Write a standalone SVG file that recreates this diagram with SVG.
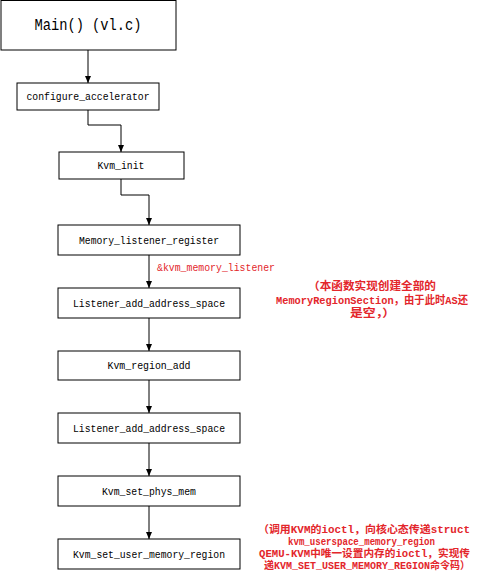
<svg xmlns="http://www.w3.org/2000/svg" width="480" height="579" viewBox="0 0 480 579">
<style>
.box rect{fill:#fff;stroke:#000;stroke-width:1}
.box text{font-family:"Liberation Mono","Noto Sans CJK SC",monospace;font-size:11px;fill:#000;text-anchor:middle}
.conn path{fill:none;stroke:#000;stroke-width:1}
.note{font-family:"Liberation Mono","Noto Sans CJK SC",monospace;font-size:11px;fill:#e3262b;font-weight:bold}
.note2{font-size:10.5px}
.lbl{font-family:"Liberation Mono","Noto Sans CJK SC",monospace;font-size:11px;fill:#e3262b}
</style>
<defs>
<marker id="arr" markerUnits="userSpaceOnUse" markerWidth="8" markerHeight="8" refX="7" refY="4" orient="auto">
<path d="M0,1 L7,4 L0,7 Z" fill="#000"/>
</marker>
</defs>
<rect width="480" height="579" fill="#fff"/>
<g class="conn">
<path d="M88,50 V83" marker-end="url(#arr)"/>
<path d="M88,110 V125 H121 V152" marker-end="url(#arr)"/>
<path d="M121,179 V195 H149 V225" marker-end="url(#arr)"/>
<path d="M149,255 V288" marker-end="url(#arr)"/>
<path d="M149,318 V351" marker-end="url(#arr)"/>
<path d="M149,380 V413" marker-end="url(#arr)"/>
<path d="M149,443 V476" marker-end="url(#arr)"/>
<path d="M149,506 V539" marker-end="url(#arr)"/>
</g>
<g id="n-main" class="box"><rect x="1" y="0.5" width="175" height="49.5"/><text x="88" y="30" style="font-size:16px" textLength="107" lengthAdjust="spacingAndGlyphs">Main() (vl.c)</text></g>
<g id="n-config" class="box"><rect x="17" y="83" width="142" height="27"/><text x="88" y="100" textLength="123" lengthAdjust="spacingAndGlyphs">configure_accelerator</text></g>
<g id="n-kvminit" class="box"><rect x="59" y="152" width="125" height="27"/><text x="121" y="169" textLength="47" lengthAdjust="spacingAndGlyphs">Kvm_init</text></g>
<g id="n-mlr" class="box"><rect x="58" y="225" width="182" height="30"/><text x="149" y="244" textLength="140" lengthAdjust="spacingAndGlyphs">Memory_listener_register</text></g>
<g id="n-laas1" class="box"><rect x="58" y="288" width="182" height="30"/><text x="149" y="307" textLength="152" lengthAdjust="spacingAndGlyphs">Listener_add_address_space</text></g>
<g id="n-kra" class="box"><rect x="58" y="351" width="182" height="29"/><text x="149" y="369" textLength="83" lengthAdjust="spacingAndGlyphs">Kvm_region_add</text></g>
<g id="n-laas2" class="box"><rect x="58" y="413" width="182" height="30"/><text x="149" y="432" textLength="152" lengthAdjust="spacingAndGlyphs">Listener_add_address_space</text></g>
<g id="n-kspm" class="box"><rect x="58" y="476" width="182" height="30"/><text x="149" y="495" textLength="94" lengthAdjust="spacingAndGlyphs">Kvm_set_phys_mem</text></g>
<g id="n-ksumr" class="box"><rect x="58" y="539" width="182" height="30"/><text x="149" y="558" textLength="152" lengthAdjust="spacingAndGlyphs">Kvm_set_user_memory_region</text></g>
<text class="lbl" x="157" y="271" textLength="118" lengthAdjust="spacingAndGlyphs">&amp;kvm_memory_listener</text>
<g id="note1">
<text class="note" x="308" y="290" textLength="128" lengthAdjust="spacingAndGlyphs">（本函数实现创建全部的</text>
<text class="note" x="276" y="303.5" textLength="192" lengthAdjust="spacingAndGlyphs">MemoryRegionSection，由于此时AS还</text>
<text class="note" x="350" y="317" textLength="45" lengthAdjust="spacingAndGlyphs">是空，）</text>
</g>
<g id="note2">
<text class="note note2" x="258" y="533" textLength="212" lengthAdjust="spacingAndGlyphs">（调用KVM的ioctl，向核心态传递struct</text>
<text class="note note2" x="288" y="545" textLength="147" lengthAdjust="spacingAndGlyphs">kvm_userspace_memory_region</text>
<text class="note note2" x="259" y="557" textLength="211" lengthAdjust="spacingAndGlyphs">QEMU-KVM中唯一设置内存的ioctl，实现传</text>
<text class="note note2" x="264" y="569" textLength="206" lengthAdjust="spacingAndGlyphs">递KVM_SET_USER_MEMORY_REGION命令码）</text>
</g>
</svg>
